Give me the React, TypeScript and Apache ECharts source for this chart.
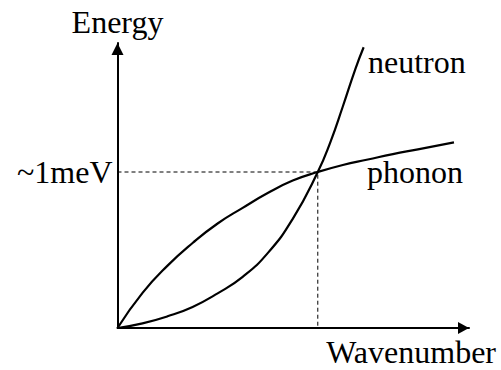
import React, { useEffect, useRef } from "react";
import * as echarts from "echarts";

// Wavenumber in units of the crossing point, energy in meV.
const phononK = [0, 0.125, 0.25, 0.375, 0.5, 0.625, 0.75, 0.875, 1.0, 1.125, 1.25, 1.375, 1.5, 1.68];
const phononE = [0, 0.225, 0.4, 0.545, 0.67, 0.77, 0.865, 0.945, 1.0, 1.045, 1.08, 1.115, 1.145, 1.19];

const neutronK = [0, 0.125, 0.25, 0.375, 0.5, 0.625, 0.75, 0.875, 1.0, 1.0625, 1.125, 1.1875, 1.229];
const neutronE = [0, 0.03, 0.075, 0.135, 0.222, 0.328, 0.48, 0.7, 1.0, 1.19, 1.42, 1.66, 1.8];

const crossing = [1.0, 1.0];
const energyTickLabel = "~1meV";

const FONT = "Liberation Serif, Times New Roman, serif";

export default function App() {
  const ref = useRef<HTMLDivElement>(null);

  useEffect(() => {
    if (!ref.current) return;
    const chart = echarts.init(ref.current, null, { renderer: "svg" });

    const zip = (xs: number[], ys: number[]) => xs.map((x, i) => [x, ys[i]]);

    chart.setOption({
      animation: false,
      backgroundColor: "#fff",
      grid: { left: 117.5, right: 32, top: 43, bottom: 42, containLabel: false },
      xAxis: {
        type: "value",
        min: 0,
        max: 1.755,
        axisLine: {
          show: true,
          onZero: false,
          symbol: ["none", "triangle"],
          symbolSize: [12, 11],
          symbolOffset: [0, -5.5],
          lineStyle: { color: "#000", width: 2 },
        },
        axisTick: { show: false },
        axisLabel: { show: false },
        splitLine: { show: false },
      },
      yAxis: {
        type: "value",
        min: 0,
        max: 1.827,
        interval: 1,
        name: "Energy",
        nameLocation: "end",
        nameGap: 21,
        nameTextStyle: {
          fontFamily: FONT,
          fontSize: 32,
          color: "#000",
          align: "center",
          verticalAlign: "middle",
        },
        axisLine: {
          show: true,
          onZero: false,
          symbol: ["none", "triangle"],
          symbolSize: [12, 12],
          symbolOffset: [0, -6],
          lineStyle: { color: "#000", width: 2 },
        },
        axisTick: { show: false },
        axisLabel: {
          show: true,
          margin: 5,
          showMaxLabel: false,
          fontFamily: FONT,
          fontSize: 32,
          color: "#000",
          formatter: (v: number) => (v === 1 ? energyTickLabel : ""),
        },
        splitLine: { show: false },
      },
      graphic: [
        {
          type: "text",
          right: 5,
          top: 336,
          style: { text: "Wavenumber", font: `32px ${FONT}`, fill: "#000" },
        },
        {
          type: "text",
          left: 368,
          top: 46,
          style: { text: "neutron", font: `32px ${FONT}`, fill: "#000" },
        },
        {
          type: "text",
          left: 367,
          top: 156,
          style: { text: "phonon", font: `32px ${FONT}`, fill: "#000" },
        },
      ],
      series: [
        {
          name: "phonon",
          type: "line",
          data: zip(phononK, phononE),
          smooth: true,
          symbol: "none",
          clip: false,
          lineStyle: { color: "#000", width: 2.2 },
        },
        {
          name: "neutron",
          type: "line",
          data: zip(neutronK, neutronE),
          smooth: true,
          symbol: "none",
          clip: false,
          lineStyle: { color: "#000", width: 2.2 },
        },
        {
          name: "guides",
          type: "line",
          data: [
            [0, crossing[1]],
            [crossing[0], crossing[1]],
            [crossing[0], 0],
          ],
          symbol: "none",
          lineStyle: { color: "#000", width: 1, type: [4, 3] },
        },
      ],
    });

    return () => chart.dispose();
  }, []);

  return (
    <div
      ref={ref}
      style={{ position: "absolute", left: 0, top: 0, width: 501, height: 370 }}
    />
  );
}
